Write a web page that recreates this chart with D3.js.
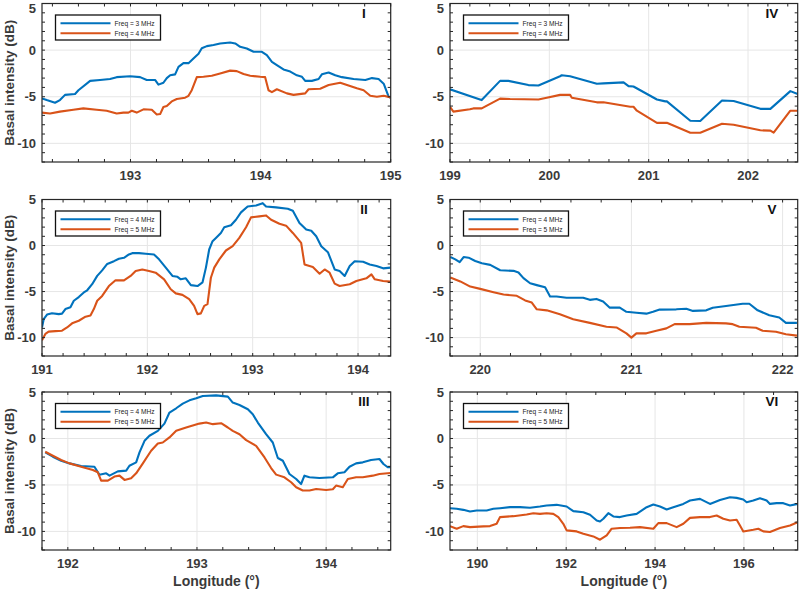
<!DOCTYPE html>
<html><head><meta charset="utf-8">
<script src="https://cdn.jsdelivr.net/npm/d3@7"></script>
<style>body{margin:0;background:#fff}svg{display:block}text{font-family:"Liberation Sans",Arial,Helvetica,sans-serif}</style>
</head><body>
<script>
// ---------- DATA ----------
const panelNames = ["I","II","III","IV","V","VI"];
const legendI  = ["Freq = 3 MHz","Freq = 4 MHz"];
const legendII = ["Freq = 4 MHz","Freq = 5 MHz"];
const xDomains = {I:[192.32,195], II:[191,194.31], III:[191.8,194.5], IV:[199,202.5], V:[219.8,222.1], VI:[189.385,197.21]};
const xTickVals = {I:[193,194,195], II:[191,192,193,194], III:[192,193,194], IV:[199,200,201,202], V:[220,221,222], VI:[190,192,194,196]};
const yDomain = [-12,5];
const yTickVals = [-10,-5,0,5];

const I_blue = [[192.32,-5.18],[192.356,-5.36],[192.42,-5.64],[192.458,-5.36],[192.497,-4.8],[192.574,-4.7],[192.6,-4.3],[192.69,-3.3],[192.766,-3.2],[192.843,-3.1],[192.894,-2.9],[192.997,-2.8],[193.074,-2.9],[193.125,-3.2],[193.189,-3.2],[193.215,-3.7],[193.253,-3.5],[193.279,-3.0],[193.305,-2.7],[193.343,-2.6],[193.369,-1.8],[193.407,-1.4],[193.446,-1.4],[193.484,-0.9],[193.523,-0.4],[193.548,0.2],[193.587,0.43],[193.638,0.54],[193.689,0.71],[193.766,0.82],[193.805,0.71],[193.843,0.36],[193.894,0.18],[193.946,-0.18],[194.01,-0.18],[194.048,-0.54],[194.087,-1.25],[194.125,-1.6],[194.176,-2.07],[194.228,-2.3],[194.279,-2.7],[194.318,-2.86],[194.343,-3.3],[194.394,-3.3],[194.446,-3.1],[194.471,-2.6],[194.523,-2.4],[194.574,-2.7],[194.625,-2.9],[194.715,-3.1],[194.805,-3.2],[194.856,-3.0],[194.907,-3.1],[194.946,-3.6],[194.984,-5.0],[195.0,-5.1]];
const I_orange = [[192.32,-6.7],[192.382,-6.8],[192.458,-6.6],[192.561,-6.4],[192.638,-6.25],[192.74,-6.4],[192.817,-6.5],[192.894,-6.8],[192.946,-6.7],[192.984,-6.7],[193.01,-6.5],[193.048,-6.7],[193.1,-6.35],[193.164,-6.4],[193.202,-6.9],[193.228,-6.86],[193.253,-6.1],[193.279,-6.0],[193.317,-5.5],[193.356,-5.25],[193.42,-5.1],[193.446,-4.9],[193.471,-4.3],[193.51,-2.9],[193.561,-2.86],[193.625,-2.75],[193.689,-2.5],[193.766,-2.2],[193.817,-2.25],[193.869,-2.57],[193.92,-2.75],[193.997,-2.86],[194.035,-2.9],[194.061,-4.3],[194.087,-4.5],[194.125,-4.2],[194.202,-4.64],[194.253,-4.8],[194.343,-4.64],[194.369,-4.2],[194.458,-4.14],[194.523,-3.75],[194.612,-3.5],[194.664,-3.75],[194.74,-4.1],[194.792,-4.3],[194.843,-4.9],[194.894,-5.0],[194.946,-4.9],[195.0,-5.07]];

const II_blue = [[191.0,-8.9],[191.016,-8.0],[191.048,-7.5],[191.095,-7.35],[191.159,-7.45],[191.19,-7.4],[191.222,-6.9],[191.27,-6.7],[191.302,-6.0],[191.349,-5.6],[191.397,-5.1],[191.429,-4.86],[191.476,-4.2],[191.524,-3.3],[191.571,-2.7],[191.619,-2.0],[191.683,-1.7],[191.73,-1.44],[191.778,-1.33],[191.825,-0.97],[191.857,-0.83],[191.921,-0.83],[191.984,-0.9],[192.063,-0.97],[192.111,-1.5],[192.175,-2.4],[192.238,-3.3],[192.286,-3.4],[192.317,-3.67],[192.365,-3.56],[192.413,-4.3],[192.476,-4.4],[192.524,-4.0],[192.556,-2.4],[192.587,-0.43],[192.619,0.47],[192.651,0.83],[192.698,1.37],[192.73,1.98],[192.794,2.2],[192.841,2.8],[192.889,3.6],[192.952,4.24],[193.032,4.35],[193.095,4.6],[193.127,4.24],[193.222,4.14],[193.333,4.0],[193.381,3.78],[193.444,2.45],[193.508,1.73],[193.556,1.6],[193.603,1.0],[193.651,-0.07],[193.714,-0.72],[193.778,-2.6],[193.825,-2.77],[193.873,-3.3],[193.921,-2.23],[193.968,-1.7],[194.048,-1.76],[194.111,-2.05],[194.175,-2.23],[194.238,-2.48],[194.308,-2.4]];
const II_orange = [[191.0,-10.3],[191.032,-9.6],[191.063,-9.35],[191.127,-9.3],[191.19,-9.25],[191.238,-8.9],[191.286,-8.45],[191.349,-8.17],[191.413,-7.73],[191.46,-7.6],[191.492,-6.9],[191.524,-6.0],[191.571,-5.47],[191.635,-4.4],[191.698,-3.78],[191.778,-3.78],[191.841,-3.3],[191.889,-2.77],[191.952,-2.6],[192.016,-2.77],[192.079,-2.95],[192.159,-3.67],[192.222,-4.75],[192.27,-5.2],[192.333,-5.36],[192.397,-5.83],[192.444,-6.55],[192.476,-7.45],[192.508,-7.37],[192.54,-6.55],[192.571,-6.37],[192.603,-3.5],[192.635,-2.4],[192.683,-1.5],[192.746,-0.54],[192.81,-0.07],[192.873,0.83],[192.937,1.98],[192.984,3.06],[193.063,3.17],[193.127,3.27],[193.175,2.8],[193.254,2.37],[193.317,2.16],[193.381,1.37],[193.46,0.29],[193.492,-2.05],[193.571,-2.34],[193.635,-3.06],[193.683,-2.6],[193.73,-2.95],[193.778,-4.14],[193.825,-4.4],[193.921,-4.2],[193.984,-3.85],[194.079,-3.56],[194.127,-3.13],[194.159,-3.67],[194.238,-3.85],[194.308,-3.92]];

const III_blue = [[191.825,-1.5],[191.884,-1.96],[191.948,-2.4],[192.013,-2.68],[192.103,-2.96],[192.206,-3.04],[192.245,-3.9],[192.297,-3.75],[192.323,-4.0],[192.387,-3.54],[192.452,-3.46],[192.477,-2.93],[192.529,-2.57],[192.555,-1.5],[192.594,-0.25],[192.632,0.29],[192.697,0.82],[192.748,1.6],[192.787,2.79],[192.839,3.25],[192.89,3.75],[192.942,4.1],[192.994,4.32],[193.045,4.57],[193.148,4.64],[193.239,4.5],[193.277,3.86],[193.329,3.6],[193.394,3.14],[193.432,2.6],[193.471,1.71],[193.535,0.46],[193.587,-0.43],[193.626,-2.1],[193.665,-2.4],[193.716,-3.82],[193.768,-4.36],[193.806,-4.9],[193.832,-4.0],[193.871,-4.18],[193.948,-4.25],[194.052,-4.18],[194.09,-3.75],[194.142,-3.64],[194.181,-3.04],[194.232,-2.68],[194.284,-2.57],[194.348,-2.32],[194.413,-2.21],[194.444,-2.75],[194.477,-3.1],[194.5,-3.1]];
const III_orange = [[191.825,-1.43],[191.884,-1.86],[191.948,-2.32],[192.013,-2.68],[192.103,-3.04],[192.194,-3.39],[192.232,-3.64],[192.258,-4.54],[192.31,-4.54],[192.361,-4.1],[192.4,-4.0],[192.439,-4.46],[192.49,-4.29],[192.529,-3.75],[192.581,-2.68],[192.645,-1.32],[192.697,-0.54],[192.735,-0.43],[192.787,0.11],[192.839,0.82],[192.916,1.18],[193.019,1.6],[193.071,1.71],[193.123,1.54],[193.187,1.64],[193.239,1.18],[193.277,0.82],[193.329,0.46],[193.381,-0.18],[193.458,-0.79],[193.523,-2.04],[193.574,-3.18],[193.613,-3.89],[193.677,-4.18],[193.729,-4.71],[193.768,-5.25],[193.819,-5.6],[193.871,-5.6],[193.923,-5.43],[194.0,-5.54],[194.052,-5.46],[194.077,-5.07],[194.129,-5.25],[194.168,-4.36],[194.232,-4.18],[194.284,-4.18],[194.361,-4.0],[194.413,-3.82],[194.477,-3.75],[194.5,-3.72]];

const IV_blue = [[199.0,-4.2],[199.302,-5.3],[199.319,-5.36],[199.504,-3.3],[199.588,-3.3],[199.789,-3.75],[199.89,-3.8],[200.108,-2.8],[200.125,-2.7],[200.209,-2.8],[200.478,-3.6],[200.545,-3.57],[200.747,-3.46],[200.797,-3.86],[200.847,-3.9],[201.083,-5.3],[201.167,-5.5],[201.183,-5.5],[201.419,-7.57],[201.519,-7.6],[201.738,-5.4],[201.855,-5.45],[202.124,-6.3],[202.225,-6.3],[202.426,-4.4],[202.5,-4.7]];
const IV_orange = [[199.0,-6.1],[199.034,-6.6],[199.2,-6.35],[199.235,-6.25],[199.319,-6.25],[199.504,-5.2],[199.605,-5.25],[199.89,-5.3],[199.974,-5.1],[200.108,-4.8],[200.209,-4.8],[200.226,-5.1],[200.478,-5.6],[200.545,-5.6],[200.814,-6.07],[200.847,-6.07],[200.881,-6.5],[201.083,-7.8],[201.183,-7.8],[201.419,-8.86],[201.519,-8.86],[201.738,-7.9],[201.855,-8.0],[202.124,-8.6],[202.225,-8.64],[202.258,-8.86],[202.426,-6.5],[202.5,-6.5]];

const V_blue = [[219.802,-1.25],[219.835,-1.5],[219.864,-1.8],[219.89,-1.25],[219.923,-1.32],[219.967,-1.68],[220.011,-1.93],[220.066,-2.1],[220.132,-2.68],[220.22,-2.75],[220.253,-2.93],[220.286,-3.54],[220.33,-4.1],[220.374,-4.3],[220.429,-4.54],[220.462,-5.54],[220.505,-5.54],[220.571,-5.68],[220.681,-5.68],[220.725,-5.9],[220.769,-5.8],[220.813,-6.07],[220.857,-6.75],[220.923,-6.75],[220.967,-7.2],[221.033,-7.3],[221.099,-7.4],[221.143,-7.2],[221.187,-6.96],[221.297,-6.93],[221.363,-6.86],[221.407,-7.1],[221.495,-7.04],[221.538,-6.75],[221.626,-6.57],[221.736,-6.32],[221.78,-6.32],[221.835,-7.04],[221.912,-7.57],[221.978,-7.82],[222.022,-8.4],[222.095,-8.4]];
const V_orange = [[219.802,-3.46],[219.868,-3.9],[219.934,-4.46],[220.0,-4.71],[220.088,-5.07],[220.154,-5.32],[220.242,-5.46],[220.297,-5.96],[220.341,-6.2],[220.374,-6.93],[220.44,-7.04],[220.527,-7.46],[220.615,-8.0],[220.725,-8.4],[220.835,-8.82],[220.901,-8.9],[220.967,-9.54],[221.0,-10.0],[221.033,-9.54],[221.099,-9.54],[221.165,-9.25],[221.231,-9.0],[221.286,-8.54],[221.385,-8.54],[221.495,-8.4],[221.626,-8.46],[221.67,-8.54],[221.714,-8.82],[221.824,-8.93],[221.868,-9.25],[221.956,-9.36],[222.022,-9.64],[222.095,-9.79]];

const VI_blue = [[189.385,-7.5],[189.535,-7.57],[189.685,-7.68],[189.835,-7.86],[189.985,-7.75],[190.21,-7.75],[190.36,-7.57],[190.51,-7.5],[190.735,-7.39],[190.96,-7.39],[191.185,-7.46],[191.41,-7.32],[191.56,-7.21],[191.785,-7.14],[192.01,-7.32],[192.16,-7.82],[192.386,-7.93],[192.536,-8.21],[192.686,-8.82],[192.761,-8.93],[192.836,-8.64],[192.948,-8.04],[193.061,-8.39],[193.211,-8.46],[193.361,-8.29],[193.586,-8.11],[193.811,-7.39],[193.961,-7.11],[194.111,-7.32],[194.261,-7.64],[194.411,-7.39],[194.636,-7.04],[194.786,-6.68],[195.011,-6.5],[195.236,-7.04],[195.461,-6.61],[195.686,-6.32],[195.836,-6.39],[195.986,-6.57],[196.061,-6.86],[196.211,-6.68],[196.361,-6.43],[196.511,-6.68],[196.586,-7.04],[196.736,-6.96],[196.886,-6.96],[197.037,-7.21],[197.21,-7.04]];
const VI_orange = [[189.385,-9.43],[189.535,-9.71],[189.685,-9.43],[189.835,-9.54],[190.135,-9.46],[190.285,-9.43],[190.435,-9.18],[190.51,-8.46],[190.81,-8.36],[191.11,-8.18],[191.26,-8.04],[191.41,-8.11],[191.56,-8.04],[191.71,-8.11],[191.823,-8.46],[191.935,-9.18],[192.01,-9.89],[192.236,-10.0],[192.386,-10.25],[192.611,-10.54],[192.761,-10.89],[192.911,-10.43],[193.023,-9.71],[193.211,-9.64],[193.436,-9.61],[193.661,-9.54],[193.961,-9.71],[194.073,-9.11],[194.261,-9.11],[194.486,-9.54],[194.636,-9.18],[194.786,-8.54],[195.011,-8.46],[195.236,-8.46],[195.386,-8.29],[195.536,-8.64],[195.686,-8.82],[195.836,-8.75],[195.911,-9.36],[195.986,-10.0],[196.211,-9.82],[196.324,-9.71],[196.436,-10.0],[196.586,-10.07],[196.811,-9.64],[197.037,-9.36],[197.21,-9.0]];

const seriesData = {I:[I_blue,I_orange], II:[II_blue,II_orange], III:[III_blue,III_orange], IV:[IV_blue,IV_orange], V:[V_blue,V_orange], VI:[VI_blue,VI_orange]};
const legends = {I:legendI, II:legendII, III:legendII, IV:legendI, V:legendII, VI:legendII};

// ---------- LAYOUT ----------
const W = 799, H = 589;
const cols = [{x0:42, x1:390.7},{x0:450, x1:797.7}];
const rows = [{y0:3.5, y1:162},{y0:199.5, y1:356},{y0:392, y1:550}];
const place = {I:[0,0], II:[0,1], III:[0,2], IV:[1,0], V:[1,1], VI:[1,2]};
const minorStep = {I:0.2, II:0.2, III:0.2, IV:0.2, V:0.2, VI:2/3};
const colors = ["#0072BD","#D95319"];
const axisColor = "#262626";

const svg = d3.select("body").append("svg").attr("width",W).attr("height",H);
svg.append("rect").attr("width",W).attr("height",H).attr("fill","#fff");

panelNames.forEach((name, idx) => {
  const [ci, ri] = place[name];
  const c = cols[ci], r = rows[ri];
  const x = d3.scaleLinear().domain(xDomains[name]).range([c.x0, c.x1]);
  const y = d3.scaleLinear().domain(yDomain).range([r.y1, r.y0]);
  const g = svg.append("g");
  const clipId = "clip" + idx;
  g.append("clipPath").attr("id", clipId).append("rect")
    .attr("x", c.x0).attr("y", r.y0).attr("width", c.x1 - c.x0).attr("height", r.y1 - r.y0);

  // grid
  g.selectAll(".gx").data(xTickVals[name]).join("line")
    .attr("x1", d => x(d)).attr("x2", d => x(d)).attr("y1", r.y0).attr("y2", r.y1)
    .attr("stroke", "#e6e6e6").attr("stroke-width", 1);
  g.selectAll(".gy").data(yTickVals).join("line")
    .attr("x1", c.x0).attr("x2", c.x1).attr("y1", d => y(d)).attr("y2", d => y(d))
    .attr("stroke", "#e6e6e6").attr("stroke-width", 1);

  // lines
  const line = d3.line().x(d => x(d[0])).y(d => y(d[1]));
  seriesData[name].forEach((s, i) => {
    g.append("path").attr("d", line(s)).attr("fill", "none")
      .attr("stroke", colors[i]).attr("stroke-width", 2.1)
      .attr("stroke-linejoin", "round").attr("clip-path", `url(#${clipId})`);
  });

  // minor + major ticks (inward, all sides)
  const xd = xDomains[name];
  const xt = [];
  const base = xTickVals[name][0];
  const st = minorStep[name];
  for (let k = Math.ceil((xd[0] - base) / st - 1e-6); base + k * st <= xd[1] + 1e-6; k++) xt.push(base + k * st);
  const yt = d3.range(-12, 5.001, 1);
  const tl = 3;
  const tg = g.append("g").attr("stroke", axisColor).attr("stroke-width", 1);
  xt.forEach(v => {
    tg.append("line").attr("x1", x(v)).attr("x2", x(v)).attr("y1", r.y1).attr("y2", r.y1 - tl);
    tg.append("line").attr("x1", x(v)).attr("x2", x(v)).attr("y1", r.y0).attr("y2", r.y0 + tl);
  });
  yt.forEach(v => {
    tg.append("line").attr("x1", c.x0).attr("x2", c.x0 + tl).attr("y1", y(v)).attr("y2", y(v));
    tg.append("line").attr("x1", c.x1).attr("x2", c.x1 - tl).attr("y1", y(v)).attr("y2", y(v));
  });

  // box
  g.append("rect").attr("x", c.x0).attr("y", r.y0).attr("width", c.x1 - c.x0).attr("height", r.y1 - r.y0)
    .attr("fill", "none").attr("stroke", axisColor).attr("stroke-width", 1.2);

  // tick labels
  g.selectAll(".xl").data(xTickVals[name]).join("text")
    .attr("x", d => x(d)).attr("y", r.y1 + 18).attr("text-anchor", "middle")
    .attr("font-size", 13).attr("font-weight", "bold").attr("fill", "#3a3a3a").text(d => d);
  g.selectAll(".yl").data(yTickVals).join("text")
    .attr("x", c.x0 - 6).attr("y", d => Math.max(y(d) + 4.5, 12.5)).attr("text-anchor", "end")
    .attr("font-size", 13).attr("font-weight", "bold").attr("fill", "#3a3a3a").text(d => d);

  // panel label
  g.append("text").attr("x", c.x0 + 322).attr("y", r.y0 + 14).attr("text-anchor", "middle")
    .attr("font-size", 13.5).attr("font-weight", "bold").attr("fill", "#111").text(name);

  // legend
  const lx = c.x0 + 13.5, ly = r.y0 + 11.5;
  const lg = g.append("g");
  lg.append("rect").attr("x", lx).attr("y", ly).attr("width", 105).attr("height", 25)
    .attr("fill", "#fff").attr("stroke", "#111").attr("stroke-width", 1.3);
  legends[name].forEach((t, i) => {
    const yy = ly + 8.3 + i * 10;
    lg.append("line").attr("x1", lx + 5).attr("x2", lx + 55).attr("y1", yy).attr("y2", yy)
      .attr("stroke", colors[i]).attr("stroke-width", 2);
    lg.append("text").attr("x", lx + 59).attr("y", yy + 2.3).attr("font-size", 6.6)
      .attr("fill", "#222").text(t);
  });

  // y label on left column
  if (ci === 0) {
    const cy = (r.y0 + r.y1) / 2;
    g.append("text").attr("transform", `translate(13.5,${cy}) rotate(-90)`).attr("text-anchor", "middle")
      .attr("font-size", 13.5).attr("font-weight", "bold").attr("fill", "#3a3a3a").text("Basal intensity (dB)");
  }
  if (ri === 2) {
    g.append("text").attr("x", (c.x0 + c.x1) / 2).attr("y", 586).attr("text-anchor", "middle")
      .attr("font-size", 14).attr("font-weight", "bold").attr("fill", "#3a3a3a").text("Longitude (°)");
  }
});
</script>
</body></html>
